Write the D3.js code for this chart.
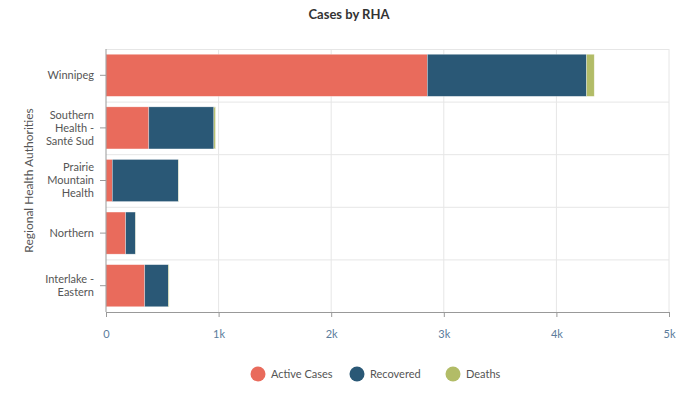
<!DOCTYPE html>
<html><head><meta charset="utf-8">
<script src="https://cdn.jsdelivr.net/npm/d3@7"></script>
<style>body{margin:0;background:#fff}svg{display:block;font-family:Lato,"Open Sans",sans-serif}</style>
</head><body><svg id="c" width="698" height="399"></svg>
<script>
const categories = ["Winnipeg", "Southern Health - Santé Sud", "Prairie Mountain Health", "Northern", "Interlake - Eastern"];
const categoryLines = [["Winnipeg"], ["Southern", "Health -", "Santé Sud"], ["Prairie", "Mountain", "Health"], ["Northern"], ["Interlake -", "Eastern"]];
const seriesNames = ["Active Cases", "Recovered", "Deaths"];
const activeCases = [2854, 380, 56, 175, 344];
const recovered = [1414, 578, 587, 86, 210];
const deaths = [68, 14, 4, 2, 6];
const xTicks = [0, 1000, 2000, 3000, 4000, 5000];
const xTickLabels = ["0", "1k", "2k", "3k", "4k", "5k"];
const colors = ["#e96b5c", "#2a5876", "#b2bc67"];

const svg = d3.select("#c");
const m = {l:106, r:669, t:49, b:312};
const x = d3.scaleLinear().domain([0,5000]).range([m.l, m.r]);
const y = d3.scaleBand().domain(categories).range([m.t, m.b]).paddingInner(0.2).paddingOuter(0.1);
const band = (m.b-m.t)/categories.length;

// grid
const g = svg.append("g");
g.selectAll("line.v").data(xTicks.slice(1)).join("line")
  .attr("x1", d=>x(d)).attr("x2", d=>x(d)).attr("y1", m.t).attr("y2", m.b)
  .attr("stroke", "#e6e6e6");
const bounds = d3.range(categories.length).map(i=>m.t+i*band);
g.selectAll("line.h").data(bounds).join("line")
  .attr("x1", m.l).attr("x2", m.r).attr("y1", d=>d+0.5).attr("y2", d=>d+0.5)
  .attr("stroke", "#e6e6e6");

// stacked bars
const data = categories.map((c,i)=>({cat:c, "Active Cases":activeCases[i], "Recovered":recovered[i], "Deaths":deaths[i]}));
const stack = d3.stack().keys(seriesNames)(data);
svg.append("g").selectAll("g").data(stack).join("g").attr("fill",(d,i)=>colors[i])
  .selectAll("rect").data(d=>d).join("rect")
  .attr("x", d=>x(d[0])).attr("width", d=>x(d[1])-x(d[0]))
  .attr("y", d=>y(d.data.cat)).attr("height", y.bandwidth())
  .attr("stroke", "rgba(255,255,255,0.5)").attr("stroke-width", 0.6);

// x axis
const xa = svg.append("g").attr("transform", `translate(0,${m.b})`)
  .call(d3.axisBottom(x).tickValues(xTicks).tickFormat((d,i)=>xTickLabels[i]).tickSize(5).tickPadding(13));
xa.select(".domain").attr("stroke", "#999");
xa.selectAll(".tick line").attr("stroke", "#999");
xa.selectAll(".tick text").attr("fill", "#5b7c9b").style("font-size", "11px").style("font-family", "Lato, sans-serif");

// y axis
const ya = svg.append("g").attr("transform", `translate(${m.l},0)`)
  .call(d3.axisLeft(y).tickSize(6).tickFormat(""));
ya.select(".domain").attr("stroke", "#999").attr("d", `M0,${m.t}V${m.b}`);
ya.selectAll(".tick line").attr("stroke", "#999");
ya.selectAll(".tick").each(function(d,i){
  const lines = categoryLines[i];
  const lh = 13;
  const t = d3.select(this).append("text").attr("x", -12).attr("fill", "#555")
    .attr("text-anchor", "end").style("font-size", "11px").style("font-family","Lato, sans-serif");
  lines.forEach((l,j)=>t.append("tspan").attr("x", -12)
    .attr("y", (j-(lines.length-1)/2)*lh).attr("dy", "0.35em").text(l));
});

svg.append("text").attr("transform", `translate(33,${(m.t+m.b)/2}) rotate(-90)`)
  .attr("text-anchor", "middle").attr("fill", "#555").style("font-size", "12px")
  .text("Regional Health Authorities");

svg.append("text").attr("x", 349).attr("y", 19).attr("text-anchor", "middle")
  .attr("fill", "#333").style("font-size", "13px").style("font-weight", "bold").text("Cases by RHA");

// legend
const legX = [258, 357, 453];
const lg = svg.append("g").selectAll("g").data(seriesNames).join("g")
  .attr("transform", (d,i)=>`translate(${legX[i]},374)`);
lg.append("circle").attr("r", 7.5).attr("fill", (d,i)=>colors[i]);
lg.append("text").attr("x", 13).attr("dy", "0.35em").attr("fill", "#555")
  .style("font-size", "11px").text(d=>d);
</script></body></html>
